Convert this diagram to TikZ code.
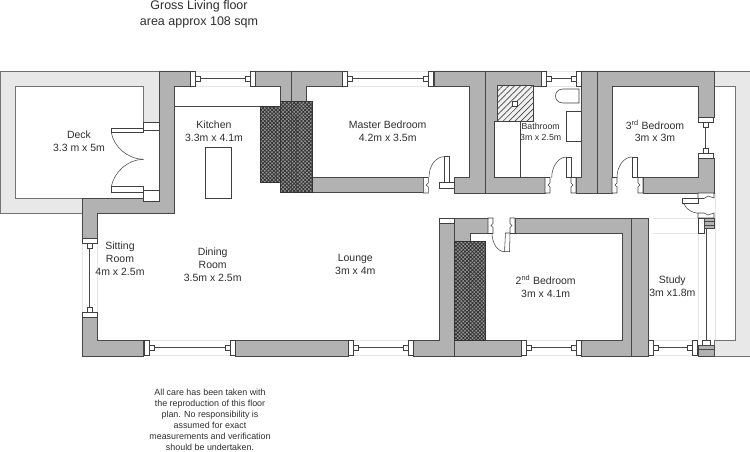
\documentclass[tikz,border=0pt]{standalone}
\usepackage{fontspec}
\setmainfont{Liberation Sans}
\usetikzlibrary{patterns.meta}
\tikzset{
    wall/.style={draw=black!72, line width=0.55pt, fill=black!30},
    deckwall/.style={draw=black!55, line width=0.55pt, fill=black!9},
    casing/.style={draw=black!75, line width=0.55pt, fill=white},
    fitting/.style={draw=black!72, line width=0.55pt},
    sill/.style={draw=black!10, line width=0.5pt},
    flue/.style={draw=black!80, line width=0.5pt, fill=black!42,
        postaction={pattern={Hatch[angle=45,distance=2.6pt,line width=0.75pt]}, pattern color=black!80}},
    shower/.style={draw=black!75, line width=0.55pt, fill=black!6,
        postaction={pattern={Lines[angle=45,distance=4.2pt,line width=0.7pt]}, pattern color=black!72}},
    room/.style={align=center, inner sep=0pt, text=black!82, font=\fontsize{10.5}{12.8}\selectfont},
    smallroom/.style={room, font=\fontsize{8.8}{11}\selectfont},
}
\begin{document}
\begin{tikzpicture}[x=1pt,y=-1pt]
    \useasboundingbox (0,0) rectangle (750,452);
    \draw[deckwall] (0,71) -- (159,71) -- (159,122) -- (143.5,122) -- (143.5,86) -- (15.5,86) -- (15.5,198) -- (82,198) -- (82,213) -- (0,213) -- cycle;
    \draw[deckwall] (714,71) -- (750,71) -- (750,356) -- (714,356) -- (714,340) -- (735,340) -- (735,86) -- (714,86) -- cycle;
    \draw[sill] (698,233) -- (698,340);
    \draw[sill] (715,193) -- (715,340);
    \draw[sill] (653,218) -- (698,218);
    \draw[sill] (653,233) -- (698,233);
    \draw[sill] (82,243) -- (82,312);
    \draw[sill] (97,243) -- (97,312);
    \draw[wall] (159,71) -- (190,71) -- (190,86) -- (174,86) -- (174,213.5) -- (97,213.5) -- (97,238) -- (82,238) -- (82,198) -- (159,198) -- cycle;
    \draw[wall] (82,317) -- (97,317) -- (97,340) -- (143,340) -- (143,356) -- (82,356) -- cycle;
    \draw[wall] (235,340) rectangle (348,356);
    \draw[wall] (439,223) -- (454.3,223) -- (454.3,340) -- (521,340) -- (521,356) -- (413,356) -- (413,340) -- (439,340) -- cycle;
    \draw[wall] (454.3,218) -- (488,218) -- (488,233) -- (470,233) -- (470,241) -- (454.3,241) -- cycle;
    \draw[wall] (515,218) -- (648,218) -- (648,356) -- (581.7,356) -- (581.7,340) -- (622,340) -- (622,233) -- (515,233) -- cycle;
    \draw[wall] (255,71) -- (342,71) -- (342,86) -- (306.7,86) -- (306.7,101) -- (280.7,101) -- (280.7,86) -- (255,86) -- cycle;
    \draw[wall] (312,177.7) rectangle (423.3,192.7);
    \draw[wall] (434,71) -- (485,71) -- (485,193) -- (454.5,193) -- (454.5,177.7) -- (469,177.7) -- (469,86) -- (434,86) -- cycle;
    \draw[wall] (485,71) -- (541,71) -- (541,86) -- (497,86) -- (497,177.7) -- (545,177.7) -- (545,193) -- (485,193) -- cycle;
    \draw[wall] (581,71) -- (597,71) -- (597,193) -- (576,193) -- (576,177.7) -- (581,177.7) -- cycle;
    \draw[wall] (597,71) -- (714,71) -- (714,117) -- (698,117) -- (698,86) -- (612,86) -- (612,193) -- (597,193) -- cycle;
    \draw[wall] (643,177.7) -- (698,177.7) -- (698,158) -- (714,158) -- (714,193) -- (643,193) -- cycle;
    \draw[casing] (439,218) rectangle (454.3,223);
    \draw[fitting] (291,71) -- (291,101);
    \draw[fitting] (454.3,340) -- (454.3,356);
    \draw[fitting] (631.7,218) -- (631.7,356);
    \draw[fitting] (174,106.7) -- (260.7,106.7);
    \draw[flue] (260.7,106.7) rectangle (280.7,182.3);
    \draw[flue] (280.7,101) rectangle (312,192.7);
    \draw[flue] (454.3,241) rectangle (485,340);
    \foreach \xa/\ya/\yb in {276/116/182.3, 291/101/192.7, 296.7/116/191, 469.3/256/340}
        \draw[fitting] (\xa,\ya) -- (\xa,\yb);
    \foreach \xa/\xb/\ya in {195/250/71, 347/428/71, 546/576/71, 149/230/340, 353/408/340, 526/576/340, 653/692/340} {
        \draw[sill] (\xa,\ya) -- (\xb,\ya);
        \draw[sill] (\xa,\ya+15.5) -- (\xb,\ya+15.5);
        \draw[fitting] (\xa+5,\ya+7.5) -- (\xb-5,\ya+7.5);
        \draw[casing] (\xa-5,\ya) rectangle (\xa,\ya+15.5);
        \draw[casing] (\xb,\ya) rectangle (\xb+5,\ya+15.5);
        \draw[casing] (\xa,\ya+5) rectangle (\xa+5,\ya+10.5);
        \draw[casing] (\xb-5,\ya+5) rectangle (\xb,\ya+10.5);
    }
    \foreach \xa/\ya/\yb in {82/238/312, 698/117/153} {
        \draw[fitting] (\xa+7.5,\ya+10) -- (\xa+7.5,\yb-5);
        \draw[casing] (\xa,\ya) rectangle (\xa+15.5,\ya+5);
        \draw[casing] (\xa,\yb) rectangle (\xa+15.5,\yb+5);
        \draw[casing] (\xa+5,\ya+5) rectangle (\xa+10.5,\ya+10);
        \draw[casing] (\xa+5,\yb-5) rectangle (\xa+10.5,\yb);
    }
    \foreach \xj/\dd/\yj in {423.3/1/177.5, 545/1/177.5, 576/-1/177.5, 612/1/177.5, 643/-1/177.5, 488/1/218, 515/-1/218}
        \draw[casing] (\xj,\yj) -- (\xj+5*\dd,\yj) -- (\xj+5*\dd,\yj+5.5) -- (\xj+3*\dd,\yj+7.5) -- (\xj+5*\dd,\yj+9.5) -- (\xj+5*\dd,\yj+15.5) -- (\xj,\yj+15.5) -- cycle;
    \draw[casing] (439,182.7) rectangle (454.5,188);
    \draw[casing] (444,156.7) rectangle (449.5,182.7);
    \draw[fitting] (444,156.7) arc [start angle=90, end angle=180, x radius=15, y radius=-20.5];
    \draw[casing] (566.7,157) rectangle (571.7,177.7);
    \draw[fitting] (566.7,157) arc [start angle=90, end angle=180, x radius=15, y radius=-20.7];
    \draw[casing] (632,157) rectangle (637.7,177.7);
    \draw[fitting] (632,157) arc [start angle=90, end angle=180, x radius=15, y radius=-20.7];
    \draw[casing] (505.5,233) -- (510,233) -- (509.5,251.7) -- (504.5,251.7) -- cycle;
    \draw[fitting] (504.5,251.7) arc [start angle=270, end angle=180, x radius=12.5, y radius=-18.7];
    \draw[casing] (143.5,122.3) rectangle (159,130);
    \draw[casing] (143.5,190) rectangle (159,201);
    \draw[casing] (111.3,128.3) rectangle (143.5,132.7);
    \draw[casing] (111.3,186.7) rectangle (143.5,192);
    \draw[fitting] (111.3,132.7) .. controls (114,147) and (128,159.3) .. (143.5,159.3);
    \draw[fitting] (111.3,186.7) .. controls (114,172) and (128,159.3) .. (143.5,159.3);
    \draw[casing] (698,193) -- (714,193) -- (714,198) -- (708,196) -- (704,198.5) -- (698,198.5) -- cycle;
    \draw[casing] (682.5,198.5) rectangle (698,203);
    \draw[fitting] (683.5,203) .. controls (686,210) and (694,214) .. (703,213.5);
    \draw[casing] (698,213) -- (704,213) -- (708,215) -- (714,213) -- (714,218) -- (698,218) -- cycle;
    \draw[casing] (698,218) rectangle (704.3,233.5);
    \draw[wall] (704.3,218) rectangle (714,228);
    \draw[fitting] (704.3,221.5) -- (714,221.5);
    \draw[fitting] (704.3,225) -- (714,225);
    \draw[fitting] (706.7,228) -- (706.7,340);
    \draw[casing] (702,340) rectangle (710,345);
    \draw[wall] (698,345) rectangle (714,356);
    \draw[fitting] (698,349) -- (714,349);
    \draw[shower] (497,85.7) rectangle (533,121.7);
    \draw[casing] (512,101.5) rectangle (517,106.5);
    \draw[casing] (494,121.7) rectangle (520,177.7);
    \draw[casing] (579,89) -- (563,89) .. controls (553,89) and (553,103) .. (563,103) -- (579,103) -- cycle;
    \draw[casing] (566,111.7) rectangle (581,141.7);
    \draw[casing] (205.7,147.3) rectangle (231.3,198.3);
    \node[room, font=\fontsize{12.5}{15.8}\selectfont] (title) at (199,14) {Gross Living floor\\area approx 108 sqm};
    \node[room] (deck) at (79,141.5) {Deck\\3.3 m x 5m};
    \node[room] (kitchen) at (214,131.5) {Kitchen\\3.3m x 4.1m};
    \node[room] (master) at (387.7,131.5) {Master Bedroom\\4.2m x 3.5m};
    \node[smallroom] (bath) at (540.7,131.5) {Bathroom\\3m x 2.5m};
    \node[room] (third) at (655,131) {3\textsuperscript{rd} Bedroom\\3m x 3m};
    \node[room] (second) at (545.7,286.5) {2\textsuperscript{nd} Bedroom\\3m x 4.1m};
    \node[room] (study) at (672.3,286.5) {Study\\3m x1.8m};
    \node[room] (sitting) at (120,259) {Sitting\\Room\\4m x 2.5m};
    \node[room] (dining) at (212.7,265) {Dining\\Room\\3.5m x 2.5m};
    \node[room] (lounge) at (355.3,264.5) {Lounge\\3m x 4m};
    \node[room, font=\fontsize{8.9}{11}\selectfont] (note) at (210,419.5) {All care has been taken with\\the reproduction of this floor\\plan. No responsibility is\\assumed for exact\\measurements and verification\\should be undertaken.};
\end{tikzpicture}
\end{document}
